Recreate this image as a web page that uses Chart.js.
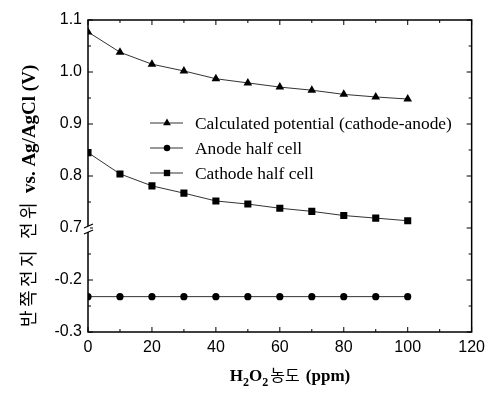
<!DOCTYPE html>
<html>
<head>
<meta charset="utf-8">
<script src="https://cdn.jsdelivr.net/npm/chart.js@4/dist/chart.umd.min.js"></script>
<style>
  html, body { margin: 0; padding: 0; background: #fff; }
  #wrap { width: 491px; height: 395px; }
</style>
</head>
<body>
<div id="wrap"><canvas id="c" width="491" height="395"></canvas></div>
<script>
// ---- data ----
const concentrations = [0, 10, 20, 30, 40, 50, 60, 70, 80, 90, 100];
const calculatedPotential = [1.077, 1.038, 1.015, 1.002, 0.987, 0.979, 0.971, 0.965, 0.957, 0.952, 0.948];
const anodeHalfCell = [-0.232, -0.232, -0.232, -0.232, -0.232, -0.232, -0.232, -0.232, -0.232, -0.232, -0.232];
const cathodeHalfCell = [0.845, 0.804, 0.781, 0.767, 0.752, 0.746, 0.738, 0.732, 0.724, 0.719, 0.714];
const seriesLabels = ['Calculated potential (cathode-anode)', 'Anode half cell', 'Cathode half cell'];
const xTickLabels = ['0', '20', '40', '60', '80', '100', '120'];
const yTickLabels = ['-0.3', '-0.2', '0.7', '0.8', '0.9', '1.0', '1.1'];
const yTitleKoWords = ['반쪽전지', '전위'];
const yTitleEn = 'vs. Ag/AgCl (V)';
const xTitleKo = '농도';

// broken axis: lower segment (-0.3 .. -0.1) is drawn shifted up by this amount
const BREAK_SHIFT = 0.8;
const BREAK_AT = 0.7;
const toAxis = v => (v < -0.05 ? v + BREAK_SHIFT : v);
const fromAxis = v => (v < BREAK_AT - 1e-6 ? v - BREAK_SHIFT : v);
const fmt1 = v => (Math.round(v * 10) / 10).toFixed(1);

const mk = arr => concentrations.map((x, i) => ({ x: x, y: toAxis(arr[i]) }));

const lineColor = '#333';
const datasets = [
  { label: seriesLabels[0], data: mk(calculatedPotential), pointStyle: 'triangle', pointRadius: 5 },
  { label: seriesLabels[1], data: mk(anodeHalfCell), pointStyle: 'circle', pointRadius: 3.6 },
  { label: seriesLabels[2], data: mk(cathodeHalfCell), pointStyle: 'rect', pointRadius: 5 }
].map(d => Object.assign(d, {
  borderColor: lineColor, borderWidth: 1, backgroundColor: '#000',
  pointBackgroundColor: '#000', pointBorderColor: '#000', pointBorderWidth: 0,
  tension: 0, fill: false
}));

const tickFont = { family: "'Liberation Sans', Arial, sans-serif", size: 16 };

const decor = {
  id: 'decor',
  afterDraw(chart) {
    const ctx = chart.ctx;
    const a = chart.chartArea;
    const xs = chart.scales.x, ys = chart.scales.y;
    ctx.save();
    // frame
    ctx.strokeStyle = '#000';
    ctx.lineWidth = 1.5;
    ctx.strokeRect(a.left, a.top, a.right - a.left, a.bottom - a.top);
    // inward ticks
    ctx.lineWidth = 1;
    xs.ticks.forEach(t => {
      const px = xs.getPixelForValue(t.value);
      const major = Math.round(t.value) % 20 === 0;
      const len = major ? 5 : 3;
      ctx.beginPath();
      ctx.moveTo(px, a.bottom); ctx.lineTo(px, a.bottom - len);
      ctx.moveTo(px, a.top); ctx.lineTo(px, a.top + len);
      ctx.stroke();
    });
    ys.ticks.forEach(t => {
      const py = ys.getPixelForValue(t.value);
      const major = Math.round(t.value * 100) % 10 === 0;
      const len = major ? 5 : 3;
      ctx.beginPath();
      ctx.moveTo(a.left, py); ctx.lineTo(a.left + len, py);
      ctx.moveTo(a.right, py); ctx.lineTo(a.right - len, py);
      ctx.stroke();
    });
    // axis break marks on the left axis
    const by = ys.getPixelForValue(BREAK_AT) + 1;
    ctx.fillStyle = '#fff';
    ctx.fillRect(a.left - 2, by - 3, 4, 6);
    ctx.strokeStyle = '#000';
    ctx.lineWidth = 1.3;
    [-3, 3].forEach(o => {
      ctx.beginPath();
      ctx.moveTo(a.left - 4, by + o + 2);
      ctx.lineTo(a.left + 5, by + o - 2);
      ctx.stroke();
    });
    // legend
    const lx0 = 150, lx1 = 183, lmid = 167, ltx = 195;
    const rows = [123, 148, 173];
    ctx.font = "17.4px 'Liberation Serif', 'Times New Roman', serif";
    ctx.textBaseline = 'middle';
    ctx.textAlign = 'left';
    chart.data.datasets.forEach((d, i) => {
      const y = rows[i];
      ctx.strokeStyle = lineColor; ctx.lineWidth = 1;
      ctx.beginPath(); ctx.moveTo(lx0, y); ctx.lineTo(lx1, y); ctx.stroke();
      ctx.fillStyle = '#000';
      Chart.helpers.drawPoint(ctx, { pointStyle: d.pointStyle, rotation: 0, borderWidth: 0, radius: d.pointRadius * 0.9 }, lmid, y);
      ctx.fillStyle = '#000';
      ctx.fillText(d.label, ltx, y + 1);
    });
    // x title: H2O2 농도 (ppm)
    const fB = "bold 17px 'Liberation Serif', 'Times New Roman', serif";
    const fS = "bold 12px 'Liberation Serif', 'Times New Roman', serif";
    const fK = "16px 'Noto Sans CJK KR', sans-serif";
    const parts = [
      { t: 'H', f: fB, dy: 0 }, { t: '2', f: fS, dy: 5 },
      { t: 'O', f: fB, dy: 0 }, { t: '2', f: fS, dy: 5 },
      { t: xTitleKo, f: fK, dy: 0 }, { t: ' (ppm)', f: fB, dy: 0 }
    ];
    let total = 0;
    parts.forEach(p => { ctx.font = p.f; p.w = ctx.measureText(p.t).width + (p.f === fK ? 4 : 0); total += p.w; });
    let cx = 290 - total / 2;
    const ty = 381;
    ctx.textBaseline = 'alphabetic';
    ctx.fillStyle = '#000';
    parts.forEach(p => { ctx.font = p.f; ctx.fillText(p.t, cx + (p.f === fK ? 2 : 0), ty + p.dy); cx += p.w; });
    // y title rotated: Korean chars spaced out, then bold English part
    ctx.save();
    ctx.translate(35, 0);
    ctx.rotate(-Math.PI / 2);
    // in rotated frame, x = -pageY
    const yk = "18px 'Noto Sans CJK KR', sans-serif";
    const ye = "bold 19px 'Liberation Serif', 'Times New Roman', serif";
    ctx.font = yk;
    let pos = -327;
    const charAdv = 20;
    yTitleKoWords.forEach((w, wi) => {
      Array.from(w).forEach(ch => { ctx.fillText(ch, pos, 0); pos += charAdv; });
      if (wi < yTitleKoWords.length - 1) pos += 8;
    });
    pos += 6;
    ctx.font = ye;
    ctx.fillText(yTitleEn, pos, 0);
    ctx.restore();
    ctx.restore();
  }
};

new Chart(document.getElementById('c'), {
  type: 'line',
  data: { datasets: datasets },
  options: {
    responsive: false,
    animation: false,
    devicePixelRatio: 1,
    layout: { padding: { top: 20, right: 18, left: 0, bottom: 0 } },
    plugins: { legend: { display: false }, tooltip: { enabled: false } },
    scales: {
      x: {
        type: 'linear', min: 0, max: 120,
        afterFit: s => { s.height = 63; },
        grid: { display: false, drawTicks: false },
        border: { display: false },
        ticks: {
          stepSize: 10, autoSkip: false, maxRotation: 0, padding: 6,
          color: '#000', font: tickFont,
          callback: v => (xTickLabels.includes(String(Math.round(v))) ? String(Math.round(v)) : '')
        }
      },
      y: {
        type: 'linear', min: 0.5, max: 1.1,
        afterFit: s => { s.width = 88; },
        grid: { display: false, drawTicks: false },
        border: { display: false },
        ticks: {
          stepSize: 0.05, autoSkip: false, padding: 6,
          color: '#000', font: tickFont,
          callback: v => {
            const lab = fmt1(fromAxis(v));
            const isMajor = Math.round(v * 100) % 10 === 0;
            return isMajor && yTickLabels.includes(lab) ? lab : '';
          }
        }
      }
    }
  },
  plugins: [decor]
});
</script>
</body>
</html>
